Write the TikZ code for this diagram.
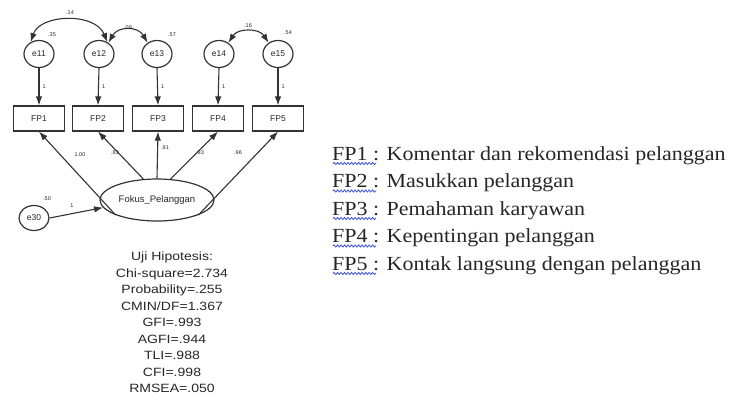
\documentclass[tikz,border=0pt]{standalone}
\usepackage{fontspec}
\setmainfont{Liberation Serif}
\setsansfont{Liberation Sans}
\usetikzlibrary{arrows.meta,shapes.geometric,decorations.pathmorphing}
\definecolor{ln}{HTML}{333333}
\definecolor{tx}{HTML}{262626}
\definecolor{wavy}{HTML}{3A4FD0}
\tikzset{
  errnode/.style={ellipse,draw=ln,line width=1.2pt,minimum width=30pt,minimum height=27pt,inner sep=0pt,font=\sffamily\fontsize{8.5}{9}\selectfont,text=tx},
  obsbox/.style={rectangle,draw=ln,line width=1.2pt,minimum width=51pt,minimum height=25pt,inner sep=0pt,font=\sffamily\fontsize{8.5}{9}\selectfont,text=tx},
  latent/.style={ellipse,draw=ln,line width=1.2pt,minimum width=114pt,minimum height=42pt,inner sep=0pt,font=\sffamily\fontsize{9.5}{10}\selectfont,text=tx},
  arr/.style={draw=ln,line width=1.1pt,-{Latex[length=9pt,width=6.5pt]}},
  biarr/.style={draw=ln,line width=1.1pt,{Latex[length=9pt,width=6.5pt]}-{Latex[length=9pt,width=6.5pt]}},
  lbl/.style={font=\sffamily\fontsize{5.5}{6}\selectfont,text=tx,inner sep=0pt},
  stat/.style={font=\sffamily\fontsize{12}{16.5}\selectfont,text=tx,align=center,inner sep=0pt,xscale=1.17},
  legend/.style={font=\fontsize{20}{27}\selectfont,text=tx,anchor=base west,inner sep=0pt,xscale=1.1},
  squig/.style={draw=wavy,line width=0.8pt,decorate,decoration={snake,amplitude=1.1pt,segment length=3.5pt}}
}
\begin{document}
\begin{tikzpicture}[x=1pt,y=-1pt]
\useasboundingbox (0,0) rectangle (740,400);
% error terms
\node[errnode] (e11) at (39,54) {e11};
\node[errnode] (e12) at (99,54) {e12};
\node[errnode] (e13) at (157,54) {e13};
\node[errnode] (e14) at (219,54) {e14};
\node[errnode] (e15) at (278,54) {e15};
% observed
\node[obsbox] (FP1) at (39,118.5) {FP1};
\node[obsbox] (FP2) at (98,118.5) {FP2};
\node[obsbox] (FP3) at (158,118.5) {FP3};
\node[obsbox] (FP4) at (218,118.5) {FP4};
\node[obsbox] (FP5) at (278,118.5) {FP5};
% latent
\node[latent] (F) at (157,200) {Fokus\_Pelanggan};
\node[errnode,minimum width=30pt,minimum height=25pt] (e30) at (34,218) {e30};
% error arrows
\foreach \e/\f in {e11/FP1,e12/FP2,e13/FP3,e14/FP4,e15/FP5}{
  \draw[arr] (\e.south) -- (\f.north) node[lbl,midway,right=3pt] {1};
}
% covariances
\draw[biarr] (e12.55) .. controls (95,12) and (40,14) .. (e11.125);
\draw[biarr] (e12.50) .. controls (118,26) and (138,26) .. (e13.130);
\draw[biarr] (e14.50) .. controls (238,28) and (259,28) .. (e15.130);
\node[lbl] (c1) at (70,13) {.14};
\node[lbl] (c2) at (128,28) {.09};
\node[lbl] (c3) at (248,26) {.16};
% variances
\node[lbl] (v11) at (52,35) {.35};
\node[lbl] (v13) at (172,35) {.57};
\node[lbl] (v15) at (288,33) {.54};
% loadings
\draw[arr] (F.200) -- (FP1.south);
\draw[arr] (F.123) -- (FP2.south);
\draw[arr] (F.north) -- (FP3.south);
\draw[arr] (F.57) -- (FP4.south);
\draw[arr] (F.-20) -- (FP5.south);
\node[lbl] (l1) at (80,155) {1.00};
\node[lbl] (l2) at (115,153) {.83};
\node[lbl] (l3) at (165,148) {.91};
\node[lbl] (l4) at (200,153) {.93};
\node[lbl] (l5) at (238,153) {.96};
% disturbance
\draw[arr] (e30.east) -- (F.188);
\node[lbl] (v30) at (47,199) {.50};
\node[lbl] (d1) at (72,206) {1};
% fit stats
\node[stat,anchor=north] (stats) at (172,252) {Uji Hipotesis:\\Chi-square=2.734\\Probability=.255\\CMIN/DF=1.367\\GFI=.993\\AGFI=.944\\TLI=.988\\CFI=.998\\RMSEA=.050};
% legend
\node[legend] (t1) at (332,160) {FP1 : Komentar dan rekomendasi pelanggan};
\node[legend] (t2) at (332,187.5) {FP2 : Masukkan pelanggan};
\node[legend] (t3) at (332,215) {FP3 : Pemahaman karyawan};
\node[legend] (t4) at (332,242.5) {FP4 : Kepentingan pelanggan};
\node[legend] (t5) at (332,270) {FP5 : Kontak langsung dengan pelanggan};
\foreach \y in {163.5,191,218.5,246,273.5}{
  \draw[squig] (333,\y) -- (376,\y);
}
\end{tikzpicture}
\end{document}
